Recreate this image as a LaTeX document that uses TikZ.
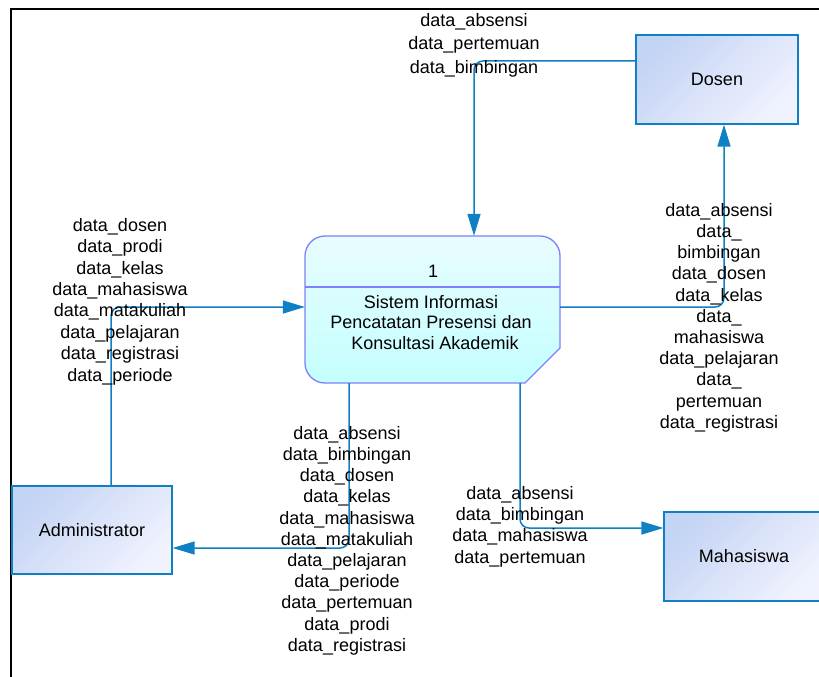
\documentclass[tikz,border=0pt]{standalone}
\usepackage{fontspec}
\setmainfont{Liberation Sans}
\usetikzlibrary{arrows.meta,calc}
\definecolor{flowc}{RGB}{16,128,196}
\definecolor{procb}{RGB}{128,128,250}
\definecolor{procT}{RGB}{232,252,255}
\definecolor{procB}{RGB}{196,255,255}
\definecolor{entA}{RGB}{196,212,244}
\definecolor{entB}{RGB}{240,242,254}
\newcommand\fl{\rule{0pt}{14pt}}
\begin{document}
\begin{tikzpicture}[x=1pt,y=-1pt,
  entity/.style={draw=flowc, line width=1.3pt, top color=entA, bottom color=entB, shading angle=45,
    minimum width=160pt, minimum height=88pt, inner sep=0, font=\fontsize{18}{21.6}\selectfont},
  flow/.style={draw=flowc, line width=1.5pt, rounded corners=9pt, -{Triangle[length=22pt,width=13pt]}},
  lbl/.style={anchor=north, align=center, inner sep=0},
  lblf/.style={font=\fontsize{18}{#1}\selectfont},
  procline/.style={draw=procb, line width=1.3pt},
]
\useasboundingbox (0,0) rectangle (819,677);
\clip (0,0) rectangle (819,677);
\fill[white] (0,0) rectangle (819,677);
% frame
\draw[line width=1.5pt] (11,700) -- (11,9) -- (840,9);

% process shape
\draw[procline, top color=procT, bottom color=procB]
  (525,383) -- (560,348) -- (560,256) .. controls (560,245) and (551,236) .. (540,236)
  -- (325,236) .. controls (314,236) and (305,245) .. (305,256)
  -- (305,363) .. controls (305,374) and (314,383) .. (325,383) -- cycle;
\node[minimum width=255pt, minimum height=147pt, inner sep=0] (proc) at (432.5,309.5) {};
\draw[procline] (proc.west |- 0,287) -- (proc.east |- 0,287);
\node[inner sep=0, font=\fontsize{18}{21.6}\selectfont] (pnum) at (433,271) {1};
\node[lbl, lblf=20.7] (pname) at (431,294)
  {\fl Sistem Informasi\\Pencatatan Presensi dan\\\hspace{8pt}Konsultasi Akademik};

% entities
\node[entity, minimum width=162pt, minimum height=89pt] (dosen) at (717,79.5) {Dosen};
\node[entity] (admin) at (92,530) {Administrator};
\node[entity, minimum height=89pt] (mhs) at (744,556.5) {Mahasiswa};

% flows
\draw[flow] ($(dosen.west)+(0,-18.5)$) -| ($(proc.north)+(41.5,0)$);
\draw[flow] ($(proc.east)+(0,-2.5)$) -| ($(dosen.south)+(7,0)$);
\draw[flow] ($(admin.north)+(19,0)$) |- ($(proc.west)+(0,-2.5)$);
\draw[flow] ($(proc.south)+(-83.5,0)$) |- ($(admin.east)+(0,18)$);
\draw[flow] ($(proc.south)+(87.5,0)$) |- ($(mhs.west)+(0,-28.5)$);

% labels
\node[lbl, lblf=23.5] (ltop) at (474,12)
  {\fl data\_absensi\\data\_pertemuan\\data\_bimbingan};
\node[lbl, lblf=21.4] (lleft) at (120,217)
  {\fl data\_dosen\\data\_prodi\\data\_kelas\\data\_mahasiswa\\data\_matakuliah\\data\_pelajaran\\data\_registrasi\\data\_periode};
\node[lbl, lblf=21.2] (lright) at (719,202)
  {\fl data\_absensi\\data\_\\bimbingan\\data\_dosen\\data\_kelas\\data\_\\mahasiswa\\data\_pelajaran\\data\_\\pertemuan\\data\_registrasi};
\node[lbl, lblf=21.2] (lbot) at (347,425)
  {\fl data\_absensi\\data\_bimbingan\\data\_dosen\\data\_kelas\\data\_mahasiswa\\data\_matakuliah\\data\_pelajaran\\data\_periode\\data\_pertemuan\\data\_prodi\\data\_registrasi};
\node[lbl, lblf=21.3] (lmhs) at (520,485)
  {\fl data\_absensi\\data\_bimbingan\\data\_mahasiswa\\data\_pertemuan};
\end{tikzpicture}
\end{document}
